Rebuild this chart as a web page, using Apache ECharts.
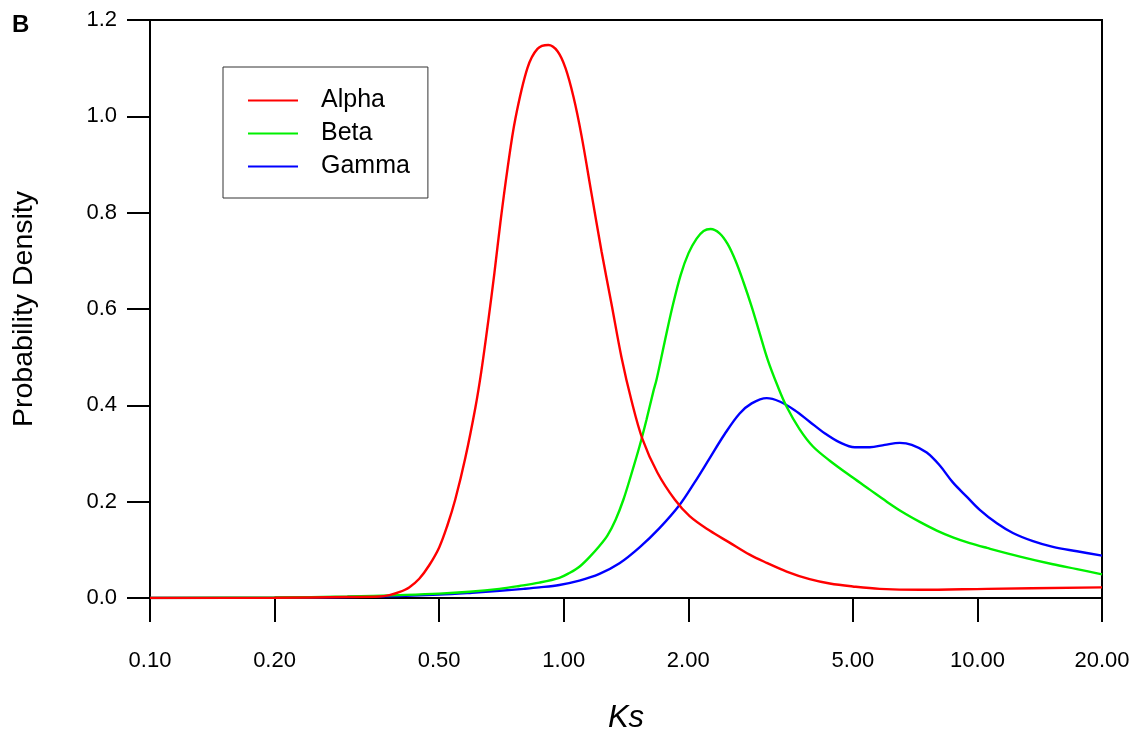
<!DOCTYPE html>
<html>
<head>
<meta charset="utf-8">
<script src="https://cdn.jsdelivr.net/npm/echarts@6/dist/echarts.min.js"></script>
<style>
html,body{margin:0;padding:0;background:#fff;}
#chart{width:1140px;height:734px;}
</style>
</head>
<body>
<div id="chart"></div>
<script>
const xTicks = [0.1, 0.2, 0.5, 1, 2, 5, 10, 20];
const seriesNames = ['Alpha', 'Beta', 'Gamma'];
const alpha = [
  [0.10,0.000],[0.20,0.0005],[0.30,0.002],[0.358,0.003],[0.379,0.006],[0.400,0.012],
  [0.423,0.022],[0.4475,0.040],[0.473,0.068],[0.500,0.105],[0.523,0.15],[0.547,0.205],
  [0.578,0.29],[0.6115,0.395],[0.632,0.47],[0.657,0.575],[0.680,0.675],[0.703,0.78],
  [0.731,0.89],[0.764,0.995],[0.817,1.10],[0.864,1.14],[0.918,1.148],[0.966,1.135],
  [1.010,1.10],[1.056,1.04],[1.104,0.96],[1.167,0.84],[1.234,0.72],[1.305,0.61],
  [1.379,0.50],[1.458,0.41],[1.55,0.33],[1.685,0.26],[1.853,0.205],[2.015,0.17],
  [2.252,0.14],[2.517,0.115],[2.814,0.09],[3.094,0.073],[3.458,0.055],[3.93,0.039],
  [4.396,0.030],[4.995,0.024],[5.806,0.019],[7.254,0.017],[10.54,0.019],[20,0.022]
];
const beta = [
  [0.10,0.000],[0.20,0.001],[0.30,0.003],[0.40,0.006],[0.50,0.009],[0.5915,0.013],
  [0.699,0.019],[0.781,0.025],[0.873,0.032],[0.976,0.042],[1.032,0.052],[1.091,0.065],
  [1.154,0.085],[1.220,0.108],[1.276,0.13],[1.334,0.162],[1.395,0.205],[1.458,0.258],
  [1.525,0.315],[1.585,0.37],[1.648,0.43],[1.676,0.453],[1.752,0.53],[1.832,0.605],
  [1.916,0.67],[2.003,0.716],[2.095,0.746],[2.178,0.762],[2.265,0.766],[2.381,0.757],
  [2.489,0.735],[2.602,0.70],[2.721,0.655],[2.846,0.605],[2.975,0.55],[3.111,0.495],
  [3.289,0.44],[3.458,0.397],[3.718,0.35],[3.998,0.315],[4.396,0.285],[4.995,0.25],
  [5.491,0.225],[6.036,0.20],[6.60,0.178],[7.254,0.158],[7.975,0.14],[8.72,0.126],
  [9.58,0.114],[10.54,0.104],[12.67,0.086],[15.22,0.07],[17.40,0.06],[20,0.049]
];
const gamma = [
  [0.10,0.000],[0.20,0.0005],[0.30,0.002],[0.40,0.004],[0.50,0.007],[0.60,0.011],
  [0.70,0.015],[0.80,0.019],[0.873,0.022],[0.976,0.027],[1.091,0.036],[1.220,0.05],
  [1.364,0.072],[1.525,0.105],[1.704,0.145],[1.905,0.193],[2.072,0.24],[2.252,0.29],
  [2.448,0.34],[2.662,0.383],[2.846,0.404],[3.094,0.415],[3.325,0.408],[3.616,0.39],
  [3.93,0.366],[4.273,0.342],[4.646,0.323],[5.051,0.313],[5.491,0.313],[5.970,0.318],
  [6.49,0.322],[6.938,0.318],[7.54,0.302],[8.11,0.275],[8.72,0.24],[9.43,0.21],
  [10.13,0.183],[11.14,0.155],[12.18,0.135],[13.62,0.118],[15.22,0.106],[17.40,0.097],
  [20,0.088]
];
const colors = ['#ff0000', '#00f000', '#0000ff'];
const FONT = 'Liberation Sans, Arial, Helvetica, sans-serif';

const chart = echarts.init(document.getElementById('chart'), null, {renderer: 'canvas'});
const dataSets = [alpha, beta, gamma];
chart.setOption({
  animation: false,
  backgroundColor: '#fff',
  textStyle: {fontFamily: FONT},
  graphic: [{
    type: 'text', left: 12, top: 13,
    style: {text: 'B', font: 'bold 24px ' + FONT, fill: '#000'}
  }],
  grid: {left: 150, right: 38, top: 20, bottom: 136, show: true, borderColor: '#000', borderWidth: 2,
         backgroundColor: 'transparent', containLabel: false, outerBoundsMode: 'none'},
  legend: {
    orient: 'vertical', left: 223, top: 67,
    data: seriesNames,
    icon: 'rect',
    backgroundColor: '#fff', borderColor: '#333', borderWidth: 1, borderRadius: 0,
    padding: [21, 18, 19, 25],
    itemWidth: 50, itemHeight: 2, itemGap: 8,
    textStyle: {fontSize: 25, lineHeight: 25, color: '#000', fontFamily: FONT, padding: [0, 0, 0, 18]}
  },
  xAxis: {
    type: 'log', logBase: 10, min: 0.1, max: 20,
    name: 'Ks', nameLocation: 'middle', nameGap: 105,
    nameTextStyle: {fontSize: 31, fontStyle: 'italic', color: '#000', fontFamily: FONT},
    axisLine: {lineStyle: {color: '#000', width: 2}},
    axisTick: {show: true, inside: false, length: 24, lineStyle: {color: '#000', width: 2}, customValues: xTicks},
    axisLabel: {customValues: xTicks, fontSize: 22, color: '#000', margin: 52, formatter: v => Number(v).toFixed(2)},
    minorTick: {show: false},
    splitLine: {show: false}
  },
  yAxis: {
    type: 'value', min: 0, max: 1.2, interval: 0.2,
    name: 'Probability Density', nameLocation: 'middle', nameGap: 111,
    nameTextStyle: {fontSize: 28.5, color: '#000', fontFamily: FONT},
    axisLine: {show: true, lineStyle: {color: '#000', width: 2}},
    axisTick: {show: true, inside: false, length: 23, lineStyle: {color: '#000', width: 2}},
    axisLabel: {fontSize: 22, color: '#000', margin: 33, formatter: v => v.toFixed(1)},
    splitLine: {show: false}
  },
  series: seriesNames.map((n, i) => ({
    name: n, type: 'line', data: dataSets[i], smooth: 0.35, symbol: 'none',
    lineStyle: {color: colors[i], width: 2.4}, itemStyle: {color: colors[i]},
    z: 3 - i
  }))
});
</script>
</body>
</html>
